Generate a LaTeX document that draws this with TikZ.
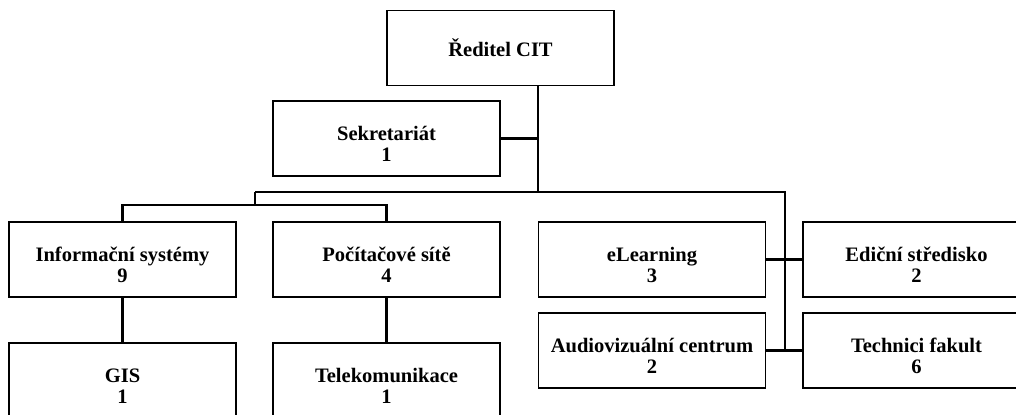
\documentclass[tikz,border=0pt]{standalone}
\usepackage{fontspec}
\setmainfont{Liberation Serif}
\usepackage{tikz}

\tikzset{
  unitbox/.style={draw=black, line width=1.4pt, rectangle, minimum width=170.25pt,
    minimum height=56.25pt, align=center, inner sep=0pt,
    font=\fontsize{15.4}{15.5}\selectfont\bfseries},
  twoline/.style={unitbox, text height=45pt, text depth=11.25pt},
  link/.style={draw=black, line width=1.6pt}
}

\begin{document}
\begin{tikzpicture}[x=0.75pt,y=-0.75pt]
	\useasboundingbox (0,0) rectangle (1016,414);
	\clip (0,0) rectangle (1016,414);
	\node [unitbox] (ceo) at (500.5,48) {Ředitel CIT};
	\node [twoline] (sec) at (386.5,138.5) {Sekretariát\\1};
	\node [twoline] (is) at (122.5,259.5) {Informační systémy\\9};
	\node [twoline] (net) at (386.5,259.5) {Počítačové sítě\\4};
	\node [twoline] (gis) at (122.5,380.5) {GIS\\1};
	\node [twoline] (tel) at (386.5,380.5) {Telekomunikace\\1};
	\node [twoline] (elearn) at (652,259.5) {eLearning\\3};
	\node [twoline] (av) at (652,350.5) {Audiovizuální centrum\\2};
	\node [twoline] (edit) at (916.5,259.5) {Ediční středisko\\2};
	\node [twoline] (tech) at (916.5,350.5) {Technici fakult\\6};
	\coordinate (trunk) at (538,192);
	\coordinate (lbr) at (255,192);
	\coordinate (lsub) at (255,205);
	\coordinate (rbr) at (785,192);
	\draw [link] (ceo.south -| trunk) -- (trunk);
	\draw [link] (sec.east) -- (sec.east -| trunk);
	\draw [link] (lbr) -- (rbr) -- (rbr |- tech.west);
	\draw [link] (lbr) -- (lsub);
	\draw [link] (is.north) |- (lsub) -| (net.north);
	\draw [link] (is.south) -- (gis.north);
	\draw [link] (net.south) -- (tel.north);
	\draw [link] (elearn.east) -- (edit.west);
	\draw [link] (av.east) -- (tech.west);
\end{tikzpicture}
\end{document}
